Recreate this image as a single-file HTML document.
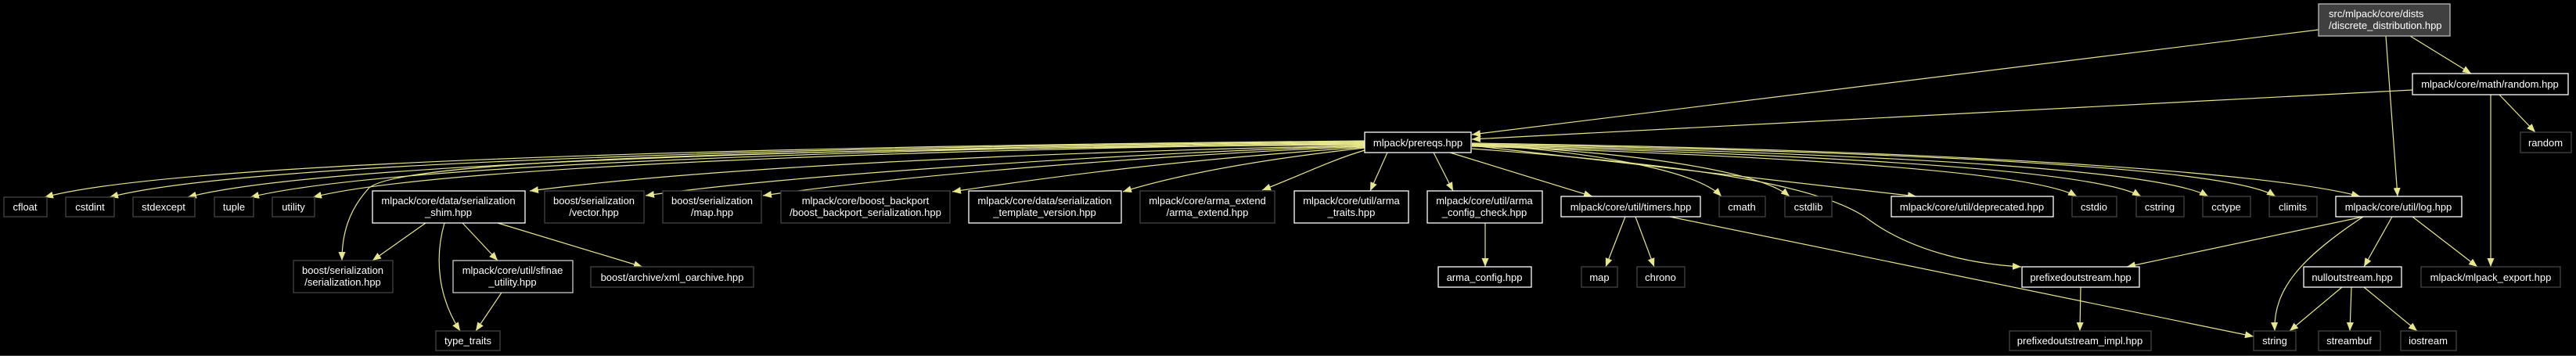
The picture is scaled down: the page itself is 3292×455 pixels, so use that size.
<!DOCTYPE html>
<html><head><meta charset="utf-8"><style>
html,body{margin:0;padding:0;background:#000;}
svg{display:block}
text{font-family:"Liberation Sans",sans-serif;font-size:13px;fill:#fff;}
.n{fill:#000;stroke:#444;stroke-width:1.3}
.w{fill:#000;stroke:#fff;stroke-width:1.3}
.e{fill:none;stroke:#e6e68c;stroke-width:1.2}
</style></head><body>
<svg width="3292" height="455" viewBox="0 0 3292 455" xmlns="http://www.w3.org/2000/svg">
<defs><marker id="a" markerWidth="12" markerHeight="9" refX="11" refY="4.5" orient="auto" markerUnits="userSpaceOnUse"><path d="M0,0 L11,4.5 L0,9 z" fill="#e6e68c"/></marker></defs>
<g class="e" marker-end="url(#a)">
<path d="M2963,38 L1881,172"/>
<path d="M3080,46 L3158,94"/>
<path d="M3049,46 L3064,251"/>
<path d="M3083,115 L1881,178"/>
<path d="M3194,121 L3240,169"/>
<path d="M3183,121 L3183,341"/>
<path d="M1744,180 C1200,185 250,200 57,252"/>
<path d="M1744,181 C1200,186 330,202 140,252"/>
<path d="M1744,182 C1200,187 420,205 240,252"/>
<path d="M1744,183 C1200,188 500,208 320,252"/>
<path d="M1744,184 C1200,190 560,212 400,252"/>
<path d="M1744,185 C1100,190 500,200 470,242 C445,270 437,300 437,333"/>
<path d="M1744,186 C1300,195 900,215 677,244"/>
<path d="M1744,186 C1400,198 1000,225 825,250"/>
<path d="M1744,187 C1450,200 1150,225 975,250"/>
<path d="M1744,188 C1500,205 1350,225 1217,245"/>
<path d="M1744,189 C1600,205 1500,225 1435,245"/>
<path d="M1744,192 C1700,205 1660,225 1613,243"/>
<path d="M1773,195 L1751,244"/>
<path d="M1832,195 L1857,244"/>
<path d="M1853,195 L2035,251"/>
<path d="M1881,184 C2050,195 2170,220 2200,251"/>
<path d="M1881,185 C2100,195 2250,220 2287,251"/>
<path d="M1881,186 L2449,251"/>
<path d="M1881,187 C2300,200 2600,220 2654,251"/>
<path d="M1881,186 C2350,198 2680,218 2736,251"/>
<path d="M1881,185 C2400,196 2760,216 2822,251"/>
<path d="M1881,184 C2450,194 2850,214 2908,251"/>
<path d="M1881,183 C2500,192 2900,220 3016,251"/>
<path d="M1881,190 C2150,210 2330,235 2390,282 C2450,325 2530,338 2583,341"/>
<path d="M544,285 L476,333"/>
<path d="M568,285 C555,330 560,380 588,423"/>
<path d="M591,285 L636,333"/>
<path d="M636,285 L821,341"/>
<path d="M641,374 L608,423"/>
<path d="M1898,285 L1898,341"/>
<path d="M2077,277 L2052,341"/>
<path d="M2090,277 L2114,341"/>
<path d="M2134,277 L2880,430"/>
<path d="M3020,277 L2718,341"/>
<path d="M3020,277 C2940,330 2905,370 2907,423"/>
<path d="M3057,277 L3021,341"/>
<path d="M3083,277 L3166,341"/>
<path d="M2659,367 L2658,423"/>
<path d="M2993,367 L2926,423"/>
<path d="M3005,367 L3003,423"/>
<path d="M3021,367 L3089,423"/>
</g>
<rect x="2963" y="5" width="168" height="41" fill="#404040" stroke="#bbb" stroke-width="1.3"/>
<text x="2976" y="22">src/mlpack/core/dists</text><text x="2976" y="37">/discrete_distribution.hpp</text>
<rect class="w" x="3083" y="94" width="199" height="27"/><text x="3182" y="112" text-anchor="middle">mlpack/core/math/random.hpp</text>
<rect class="n" x="3221" y="169" width="65" height="26"/><text x="3253" y="187" text-anchor="middle">random</text>
<rect class="w" x="1744" y="169" width="136" height="26"/><text x="1812" y="187" text-anchor="middle">mlpack/prereqs.hpp</text>
<g text-anchor="middle">
<rect class="n" x="5" y="252" width="55" height="25"/><text x="32" y="269">cfloat</text>
<rect class="n" x="84" y="252" width="62" height="25"/><text x="115" y="269">cstdint</text>
<rect class="n" x="170" y="252" width="79" height="25"/><text x="209" y="269">stdexcept</text>
<rect class="n" x="274" y="252" width="50" height="25"/><text x="299" y="269">tuple</text>
<rect class="n" x="348" y="252" width="54" height="25"/><text x="375" y="269">utility</text>
<rect class="w" x="476" y="244" width="195" height="41"/><text x="573" y="261">mlpack/core/data/serialization</text><text x="573" y="276">_shim.hpp</text>
<rect class="n" x="696" y="244" width="127" height="41"/><text x="759" y="261">boost/serialization</text><text x="759" y="276">/vector.hpp</text>
<rect class="n" x="847" y="244" width="126" height="41"/><text x="910" y="261">boost/serialization</text><text x="910" y="276">/map.hpp</text>
<rect class="n" x="998" y="244" width="216" height="41"/><text x="1106" y="261">mlpack/core/boost_backport</text><text x="1106" y="276">/boost_backport_serialization.hpp</text>
<rect class="w" x="1238" y="244" width="195" height="41"/><text x="1335" y="261">mlpack/core/data/serialization</text><text x="1335" y="276">_template_version.hpp</text>
<rect class="n" x="1457" y="244" width="172" height="41"/><text x="1543" y="261">mlpack/core/arma_extend</text><text x="1543" y="276">/arma_extend.hpp</text>
<rect class="w" x="1654" y="244" width="146" height="41"/><text x="1727" y="261">mlpack/core/util/arma</text><text x="1727" y="276">_traits.hpp</text>
<rect class="w" x="1824" y="244" width="147" height="41"/><text x="1897" y="261">mlpack/core/util/arma</text><text x="1897" y="276">_config_check.hpp</text>
<rect class="w" x="1995" y="251" width="178" height="26"/><text x="2084" y="269">mlpack/core/util/timers.hpp</text>
<rect class="n" x="2197" y="251" width="59" height="26"/><text x="2226" y="269">cmath</text>
<rect class="n" x="2281" y="251" width="60" height="26"/><text x="2311" y="269">cstdlib</text>
<rect class="w" x="2417" y="251" width="207" height="26"/><text x="2520" y="269">mlpack/core/util/deprecated.hpp</text>
<rect class="n" x="2648" y="251" width="57" height="26"/><text x="2676" y="269">cstdio</text>
<rect class="n" x="2730" y="251" width="61" height="26"/><text x="2760" y="269">cstring</text>
<rect class="n" x="2815" y="251" width="61" height="26"/><text x="2845" y="269">cctype</text>
<rect class="n" x="2900" y="251" width="61" height="26"/><text x="2930" y="269">climits</text>
<rect class="w" x="2985" y="251" width="161" height="26"/><text x="3065" y="269">mlpack/core/util/log.hpp</text>
<rect class="n" x="375" y="333" width="127" height="41"/><text x="438" y="350">boost/serialization</text><text x="438" y="365">/serialization.hpp</text>
<rect x="579" y="333" width="153" height="41" fill="#000" stroke="#ccc" stroke-width="1.3"/><text x="655" y="350">mlpack/core/util/sfinae</text><text x="655" y="365">_utility.hpp</text>
<rect class="n" x="755" y="341" width="208" height="26"/><text x="859" y="359">boost/archive/xml_oarchive.hpp</text>
<rect class="n" x="557" y="423" width="82" height="25"/><text x="598" y="440">type_traits</text>
<rect class="w" x="1838" y="341" width="119" height="26"/><text x="1897" y="359">arma_config.hpp</text>
<rect class="n" x="2021" y="341" width="46" height="26"/><text x="2044" y="359">map</text>
<rect class="n" x="2092" y="341" width="61" height="26"/><text x="2122" y="359">chrono</text>
<rect class="w" x="2584" y="341" width="150" height="26"/><text x="2659" y="359">prefixedoutstream.hpp</text>
<rect class="w" x="2944" y="341" width="125" height="26"/><text x="3006" y="359">nulloutstream.hpp</text>
<rect class="n" x="3094" y="341" width="178" height="26"/><text x="3183" y="359">mlpack/mlpack_export.hpp</text>
<rect class="n" x="2568" y="423" width="181" height="25"/><text x="2658" y="440">prefixedoutstream_impl.hpp</text>
<rect class="n" x="2880" y="423" width="54" height="25"/><text x="2907" y="440">string</text>
<rect class="n" x="2963" y="423" width="79" height="25"/><text x="3002" y="440">streambuf</text>
<rect class="n" x="3068" y="423" width="71" height="25"/><text x="3103" y="440">iostream</text>
</g>
<rect x="0" y="454" width="3292" height="1" fill="#444"/>
</svg>
</body></html>
